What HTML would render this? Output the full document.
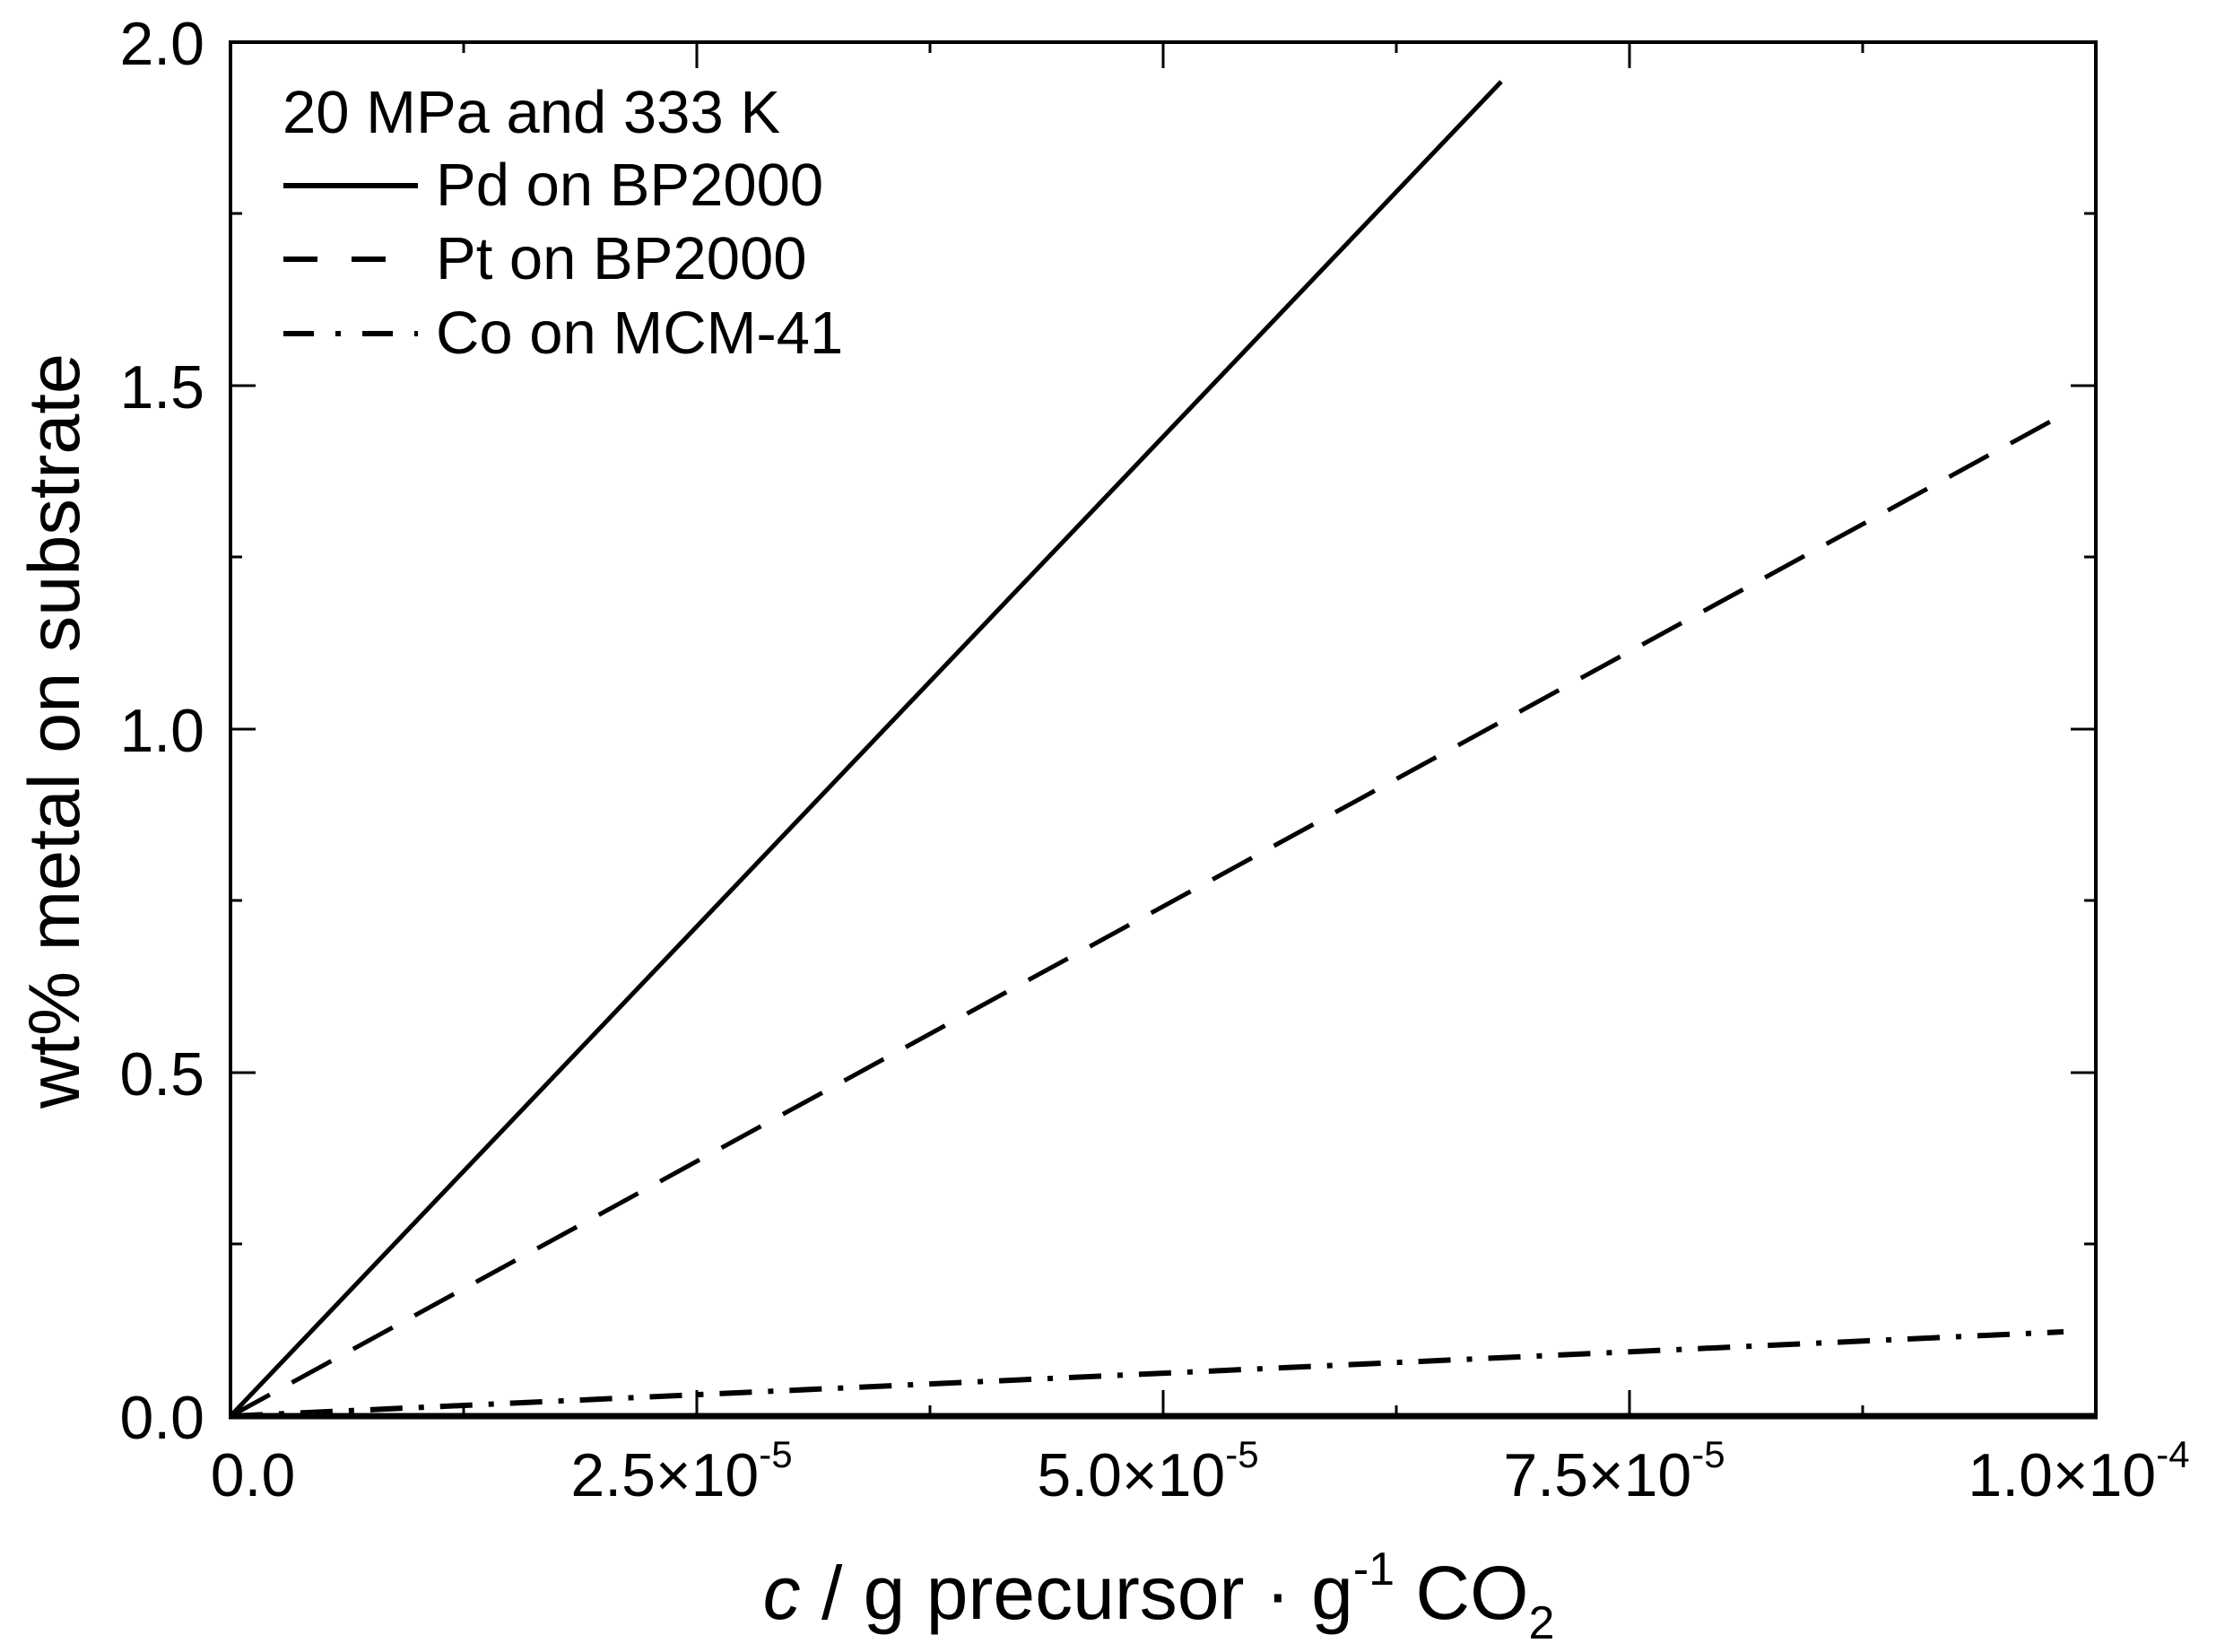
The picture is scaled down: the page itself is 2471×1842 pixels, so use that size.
<!DOCTYPE html>
<html><head><style>html,body{margin:0;padding:0;background:#fff}svg{display:block}</style></head>
<body>
<svg width="2471" height="1842" viewBox="0 0 2471 1842" xmlns="http://www.w3.org/2000/svg" font-family="Liberation Sans, Arial, sans-serif" fill="#000">
<rect x="257" y="47" width="2080" height="1532" fill="none" stroke="#000" stroke-width="4"/>
<line x1="255" y1="1579" x2="2339" y2="1579" stroke="#000" stroke-width="7"/>
<g stroke="#000" stroke-width="3">
<line x1="777" y1="1579" x2="777" y2="1550"/><line x1="1297" y1="1579" x2="1297" y2="1550"/><line x1="1817" y1="1579" x2="1817" y2="1550"/>
<line x1="517" y1="1579" x2="517" y2="1567"/><line x1="1037" y1="1579" x2="1037" y2="1567"/><line x1="1557" y1="1579" x2="1557" y2="1567"/><line x1="2077" y1="1579" x2="2077" y2="1567"/>
<line x1="777" y1="47" x2="777" y2="76"/><line x1="1297" y1="47" x2="1297" y2="76"/><line x1="1817" y1="47" x2="1817" y2="76"/>
<line x1="517" y1="47" x2="517" y2="59"/><line x1="1037" y1="47" x2="1037" y2="59"/><line x1="1557" y1="47" x2="1557" y2="59"/><line x1="2077" y1="47" x2="2077" y2="59"/>
<line x1="257" y1="430" x2="285" y2="430"/><line x1="257" y1="813" x2="285" y2="813"/><line x1="257" y1="1196" x2="285" y2="1196"/>
<line x1="257" y1="238" x2="270" y2="238"/><line x1="257" y1="621" x2="270" y2="621"/><line x1="257" y1="1004" x2="270" y2="1004"/><line x1="257" y1="1387" x2="270" y2="1387"/>
<line x1="2337" y1="430" x2="2309" y2="430"/><line x1="2337" y1="813" x2="2309" y2="813"/><line x1="2337" y1="1196" x2="2309" y2="1196"/>
<line x1="2337" y1="238" x2="2324" y2="238"/><line x1="2337" y1="621" x2="2324" y2="621"/><line x1="2337" y1="1004" x2="2324" y2="1004"/><line x1="2337" y1="1387" x2="2324" y2="1387"/>
</g>
<g font-size="68" text-anchor="end">
<text x="228" y="72">2.0</text><text x="228" y="455">1.5</text><text x="228" y="838">1.0</text><text x="228" y="1221">0.5</text><text x="228" y="1604">0.0</text>
</g>
<g font-size="68" text-anchor="middle">
<text x="282" y="1668">0.0</text>
<text x="760" y="1668">2.5×10<tspan font-size="42" dy="-32">-5</tspan></text>
<text x="1280" y="1668">5.0×10<tspan font-size="42" dy="-32">-5</tspan></text>
<text x="1800" y="1668">7.5×10<tspan font-size="42" dy="-32">-5</tspan></text>
<text x="2318" y="1668">1.0×10<tspan font-size="42" dy="-32">-4</tspan></text>
</g>
<text x="1292" y="1805" font-size="84" text-anchor="middle"><tspan font-style="italic">c</tspan> / g precursor ·  g<tspan font-size="52" dy="-38">-1</tspan><tspan dy="38"> CO</tspan><tspan font-size="52" dy="22">2</tspan></text>
<text transform="translate(88,815) rotate(-90)" font-size="81" text-anchor="middle">wt% metal on substrate</text>
<g font-size="67">
<text x="315" y="148">20 MPa and 333 K</text>
<text x="486" y="229">Pd on BP2000</text>
<text x="486" y="311">Pt on BP2000</text>
<text x="486" y="394">Co on MCM-41</text>
</g>
<line x1="316" y1="207" x2="466" y2="207" stroke="#000" stroke-width="6"/>
<line x1="316" y1="289" x2="466" y2="289" stroke="#000" stroke-width="6" stroke-dasharray="38,38"/>
<line x1="316" y1="372" x2="466" y2="372" stroke="#000" stroke-width="6" stroke-dasharray="34,24,6,24"/>
<line x1="257" y1="1579" x2="1674" y2="91" stroke="#000" stroke-width="5"/>
<line x1="257" y1="1579" x2="2301" y2="462" stroke="#000" stroke-width="5" stroke-dasharray="50,28"/>
<line x1="257" y1="1579" x2="2301" y2="1485" stroke="#000" stroke-width="6" stroke-dasharray="36,18,6,18"/>
</svg>
</body></html>
